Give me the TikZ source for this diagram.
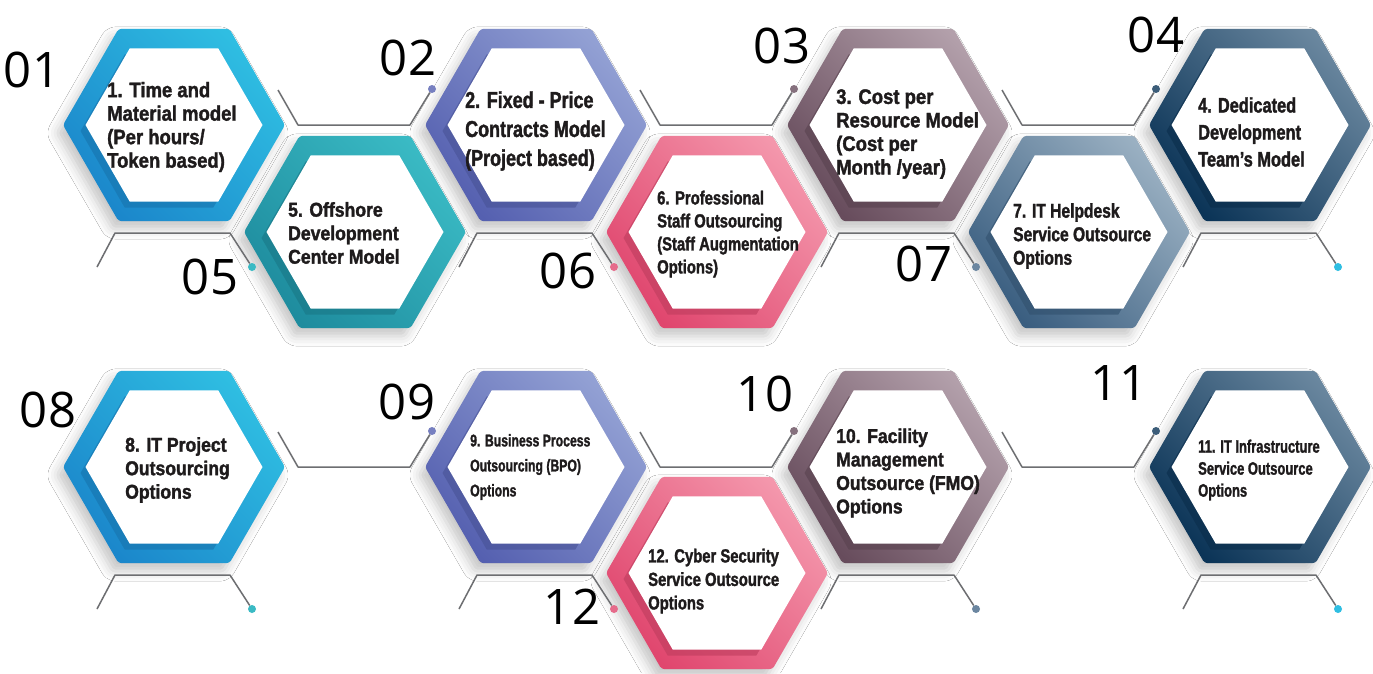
\documentclass[tikz,border=0pt]{standalone}
\usepackage{fontspec}
\usepackage{tikz}
\usetikzlibrary{shapes.geometric,shadows,shadows.blur,calc}
\newfontfamily\numfont{Open Sans}
\newfontfamily\hexfontA{Liberation Sans}[FakeStretch=0.88,BoldFeatures={FakeBold=1.6}]
\newfontfamily\hexfontB{Liberation Sans}[FakeStretch=0.78,BoldFeatures={FakeBold=1.6}]
\newfontfamily\hexfontC{Liberation Sans}[FakeStretch=0.72,BoldFeatures={FakeBold=1.4}]
\definecolor{cyanD}{HTML}{1B87CB}
\definecolor{cyanL}{HTML}{2FBEE2}
\definecolor{tealD}{HTML}{1E8C9E}
\definecolor{tealL}{HTML}{3ABAC4}
\definecolor{blueD}{HTML}{5560B0}
\definecolor{blueL}{HTML}{93A1D4}
\definecolor{pinkD}{HTML}{E0466E}
\definecolor{pinkL}{HTML}{F497AC}
\definecolor{mauvD}{HTML}{674C5C}
\definecolor{mauvL}{HTML}{B3A0AB}
\definecolor{slatD}{HTML}{3A5E80}
\definecolor{slatL}{HTML}{9AB0C2}
\definecolor{navyD}{HTML}{0B3457}
\definecolor{navyL}{HTML}{6A879F}
\definecolor{linegray}{HTML}{6D6E71}
\definecolor{textdark}{HTML}{1E1B1C}

\begin{document}
\begin{tikzpicture}
  [x=1pt,y=-1pt,
   hexring/.style 2 args={regular polygon,regular polygon sides=6,minimum size=222pt,inner sep=0pt,
     rounded corners=3pt,top color=#2,bottom color=#1,shading angle=-45,
     blur shadow={shadow xshift=-6pt,shadow yshift=-8pt,shadow blur radius=10pt,shadow opacity=22}},
   hexcore/.style={regular polygon,regular polygon sides=6,minimum size=177pt,inner sep=0pt,fill=white,
     drop shadow={shadow xshift=-5pt,shadow yshift=-6pt,fill=#1,opacity=0.6}},
   hextext/.style={anchor=west,align=left,inner sep=0pt,text=textdark},
   numlabel/.style={font=\numfont\fontsize{49}{49}\selectfont,text=black,inner sep=0pt},
   link/.style={draw=linegray,line width=1.5pt,line join=round},
   pindot/.style={circle,inner sep=0pt,minimum size=8pt,fill=#1}]
  \useasboundingbox[fill=white] (0,0) rectangle (1373,673);

  % top row
  \node[hexring={cyanD}{cyanL}] (h1) at (174,125) {};
  \node[hexring={blueD}{blueL}] (h2) at (536,125) {};
  \node[hexring={mauvD}{mauvL}] (h3) at (898,125) {};
  \node[hexring={navyD}{navyL}] (h4) at (1260,125) {};
  \node[hexcore=cyanD!85!black] (c1) at (h1) {};
  \node[hexcore=blueD!85!black] (c2) at (h2) {};
  \node[hexcore=mauvD!85!black] (c3) at (h3) {};
  \node[hexcore=navyD!85!black] (c4) at (h4) {};
  % middle row
  \node[hexring={tealD}{tealL}] (h5) at (355,232) {};
  \node[hexring={pinkD}{pinkL}] (h6) at (717,232) {};
  \node[hexring={slatD}{slatL}] (h7) at (1079,232) {};
  \node[hexcore=tealD!85!black] (c5) at (h5) {};
  \node[hexcore=pinkD!85!black] (c6) at (h6) {};
  \node[hexcore=slatD!85!black] (c7) at (h7) {};
  % bottom row
  \node[hexring={cyanD}{cyanL}] (h8) at (174,467) {};
  \node[hexring={blueD}{blueL}] (h9) at (536,467) {};
  \node[hexring={mauvD}{mauvL}] (h10) at (898,467) {};
  \node[hexring={navyD}{navyL}] (h11) at (1260,467) {};
  \node[hexring={pinkD}{pinkL}] (h12) at (717,573) {};
  \node[hexcore=cyanD!85!black] (c8) at (h8) {};
  \node[hexcore=blueD!85!black] (c9) at (h9) {};
  \node[hexcore=mauvD!85!black] (c10) at (h10) {};
  \node[hexcore=navyD!85!black] (c11) at (h11) {};
  \node[hexcore=pinkD!85!black] (c12) at (h12) {};

  % texts
  \node[hextext,font=\hexfontA\bfseries\fontsize{21}{23.5}\selectfont] (t1) at (107,127)
    {1. Time and\\Material model\\(Per hours/\\Token based)};
  \node[hextext,font=\hexfontB\bfseries\fontsize{23}{29}\selectfont] (t2) at (465,131)
    {2. Fixed - Price\\Contracts Model\\(Project based)};
  \node[hextext,font=\hexfontA\bfseries\fontsize{21}{23.5}\selectfont] (t3) at (836,134)
    {3. Cost per\\Resource Model\\(Cost per\\Month /year)};
  \node[hextext,font=\hexfontB\bfseries\fontsize{21}{27}\selectfont] (t4) at (1198,132)
    {4. Dedicated\\Development\\Team’s Model};
  \node[hextext,font=\hexfontA\bfseries\fontsize{20}{23.5}\selectfont] (t5) at (288,233)
    {5. Offshore\\Development\\Center Model};
  \node[hextext,font=\hexfontB\bfseries\fontsize{19}{23}\selectfont] (t6) at (657,234)
    {6. Professional\\Staff Outsourcing\\(Staff Augmentation\\Options)};
  \node[hextext,font=\hexfontB\bfseries\fontsize{20}{23.5}\selectfont] (t7) at (1013,236)
    {7. IT Helpdesk\\Service Outsource\\Options};
  \node[hextext,font=\hexfontA\bfseries\fontsize{20}{23.5}\selectfont] (t8) at (125,470)
    {8. IT Project\\Outsourcing\\Options};
  \node[hextext,font=\hexfontC\bfseries\fontsize{17}{25}\selectfont] (t9) at (470,467)
    {9. Business Process\\Outsourcing (BPO)\\Options};
  \node[hextext,font=\hexfontA\bfseries\fontsize{20}{23.5}\selectfont] (t10) at (836,473)
    {10. Facility\\Management\\Outsource (FMO)\\Options};
  \node[hextext,font=\hexfontC\bfseries\fontsize{18}{22}\selectfont] (t11) at (1198,470)
    {11. IT Infrastructure\\Service Outsource\\Options};
  \node[hextext,font=\hexfontB\bfseries\fontsize{19}{23.5}\selectfont] (t12) at (648,581)
    {12. Cyber Security\\Service Outsource\\Options};

  % numbers
  \node[numlabel] (n1) at (32,70) {01};
  \node[numlabel] (n2) at (408,58) {02};
  \node[numlabel] (n3) at (782,46) {03};
  \node[numlabel] (n4) at (1156,35) {04};
  \node[numlabel] (n5) at (210,277) {05};
  \node[numlabel] (n6) at (568,271) {06};
  \node[numlabel] (n7) at (924,264) {07};
  \node[numlabel] (n8) at (48,410) {08};
  \node[numlabel] (n9) at (407,402) {09};
  \node[numlabel] (n10) at (765,394) {10};
  \node[numlabel] (n11) at (1119,383) {11};
  \node[numlabel] (n12) at (572,607) {12};

  % links between hexagons
  \coordinate (a1) at ($(h1)+(104,-35)$);
  \coordinate (a2) at ($(h2)+(104,-35)$);
  \coordinate (a3) at ($(h3)+(104,-35)$);
  \coordinate (a8) at ($(h8)+(104,-35)$);
  \coordinate (a9) at ($(h9)+(104,-35)$);
  \coordinate (a10) at ($(h10)+(104,-35)$);
  \node[pindot=blueD!80] (p1) at ($(h1)+(258,-36)$) {};
  \node[pindot=mauvD!80] (p2) at ($(h2)+(258,-36)$) {};
  \node[pindot=navyD!80] (p3) at ($(h3)+(258,-36)$) {};
  \node[pindot=blueD!80] (p8) at ($(h8)+(258,-36)$) {};
  \node[pindot=mauvD!80] (p9) at ($(h9)+(258,-36)$) {};
  \node[pindot=navyD!80] (p10) at ($(h10)+(258,-36)$) {};
  \draw[link] (a1) -- ++(20,35) -- ++(112,0) -- (p1);
  \draw[link] (a2) -- ++(20,35) -- ++(112,0) -- (p2);
  \draw[link] (a3) -- ++(20,35) -- ++(112,0) -- (p3);
  \draw[link] (a8) -- ++(20,35) -- ++(112,0) -- (p8);
  \draw[link] (a9) -- ++(20,35) -- ++(112,0) -- (p9);
  \draw[link] (a10) -- ++(20,35) -- ++(112,0) -- (p10);

  % links under hexagons
  \coordinate (b1) at ($(h1)+(-77,142)$);
  \coordinate (b2) at ($(h2)+(-77,142)$);
  \coordinate (b3) at ($(h3)+(-77,142)$);
  \coordinate (b4) at ($(h4)+(-77,142)$);
  \coordinate (b8) at ($(h8)+(-77,142)$);
  \coordinate (b9) at ($(h9)+(-77,142)$);
  \coordinate (b10) at ($(h10)+(-77,142)$);
  \coordinate (b11) at ($(h11)+(-77,142)$);
  \node[pindot=tealL] (q1) at ($(h1)+(78,142)$) {};
  \node[pindot=pinkD!80] (q2) at ($(h2)+(78,142)$) {};
  \node[pindot=slatD!75] (q3) at ($(h3)+(78,142)$) {};
  \node[pindot=cyanL] (q4) at ($(h4)+(78,142)$) {};
  \node[pindot=tealL] (q8) at ($(h8)+(78,142)$) {};
  \node[pindot=pinkD!80] (q9) at ($(h9)+(78,142)$) {};
  \node[pindot=slatD!75] (q10) at ($(h10)+(78,142)$) {};
  \node[pindot=cyanL] (q11) at ($(h11)+(78,142)$) {};
  \draw[link] (b1) -- ++(18,-34) -- ++(115,0) -- (q1);
  \draw[link] (b2) -- ++(18,-34) -- ++(115,0) -- (q2);
  \draw[link] (b3) -- ++(18,-34) -- ++(115,0) -- (q3);
  \draw[link] (b4) -- ++(18,-34) -- ++(115,0) -- (q4);
  \draw[link] (b8) -- ++(18,-34) -- ++(115,0) -- (q8);
  \draw[link] (b9) -- ++(18,-34) -- ++(115,0) -- (q9);
  \draw[link] (b10) -- ++(18,-34) -- ++(115,0) -- (q10);
  \draw[link] (b11) -- ++(18,-34) -- ++(115,0) -- (q11);
\end{tikzpicture}
\end{document}
